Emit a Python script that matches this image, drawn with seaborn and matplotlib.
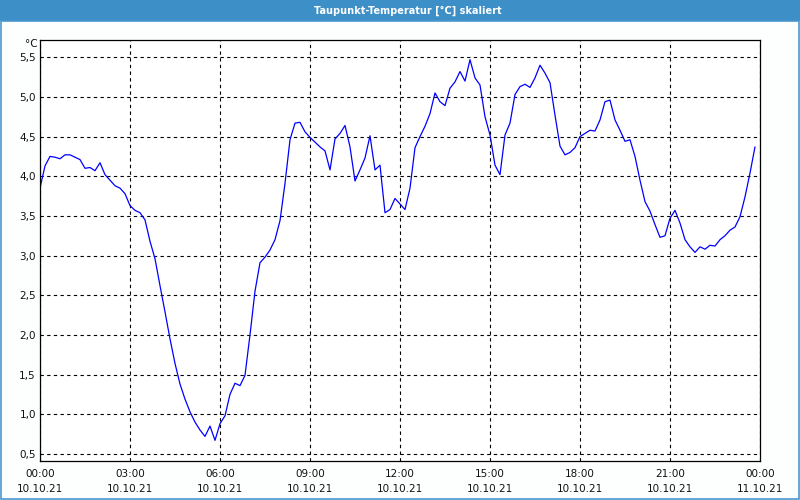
import numpy as np
import pandas as pd
import matplotlib
matplotlib.use("Agg")
import matplotlib.pyplot as plt
import matplotlib.dates as mdates
from matplotlib.patches import Rectangle
from matplotlib.ticker import FuncFormatter
import seaborn as sns

# ---- data ----
title = "Taupunkt-Temperatur [°C] skaliert"
unit = "°C"
start_time = "2021-10-10 00:00"
end_time = "2021-10-11 00:00"
dew_point = [
    3.85, 4.13, 4.25, 4.24, 4.22, 4.27, 4.27, 4.24, 4.21, 4.10, 4.11, 4.07,
    4.17, 4.02, 3.95, 3.88, 3.85, 3.78, 3.63, 3.57, 3.54, 3.45, 3.18, 2.96,
    2.62, 2.29, 1.95, 1.64, 1.38, 1.19, 1.03, 0.90, 0.80, 0.72, 0.85, 0.67,
    0.88, 0.98, 1.25, 1.39, 1.36, 1.49, 2.00, 2.55, 2.91, 2.98, 3.07, 3.20,
    3.44, 3.91, 4.46, 4.67, 4.68, 4.56, 4.49, 4.43, 4.37, 4.32, 4.08, 4.47,
    4.54, 4.64, 4.37, 3.94, 4.08, 4.23, 4.51, 4.08, 4.14, 3.54, 3.58, 3.72,
    3.65, 3.58, 3.85, 4.36, 4.50, 4.63, 4.79, 5.05, 4.94, 4.89, 5.11, 5.19,
    5.32, 5.20, 5.47, 5.24, 5.15, 4.75, 4.52, 4.14, 4.02, 4.52, 4.67, 5.03,
    5.13, 5.16, 5.12, 5.24, 5.40, 5.30, 5.18, 4.77, 4.38, 4.27, 4.30, 4.36,
    4.50, 4.54, 4.58, 4.57, 4.71, 4.94, 4.96, 4.71, 4.58, 4.44, 4.46, 4.25,
    3.95, 3.68, 3.56, 3.39, 3.23, 3.25, 3.47, 3.57, 3.41, 3.20, 3.11, 3.04,
    3.11, 3.08, 3.13, 3.12, 3.20, 3.25, 3.32, 3.36, 3.49, 3.74, 4.04, 4.37,
]
tick_times = ["00:00", "03:00", "06:00", "09:00", "12:00", "15:00", "18:00", "21:00", "00:00"]
tick_dates = ["10.10.21"] * 8 + ["11.10.21"]
y_ticks = [0.5, 1.0, 1.5, 2.0, 2.5, 3.0, 3.5, 4.0, 4.5, 5.0, 5.5]

times = pd.date_range(start_time, periods=len(dew_point), freq="10min")
df = pd.DataFrame({"Zeit": times, "Taupunkt": dew_point})

# ---- figure ----
sns.set_style("white")
plt.rcParams["font.family"] = ["DejaVu Sans"]

fig = plt.figure(figsize=(8, 5), dpi=100, facecolor="#fdfefe")
ax = fig.add_axes([0.05, 1 - 460.5 / 500, 0.90, (460.5 - 40.3) / 500])
ax.set_facecolor("white")

sns.lineplot(data=df, x="Zeit", y="Taupunkt", ax=ax, color="#0000ff", linewidth=0.9)

ax.set_xlim(pd.Timestamp(start_time), pd.Timestamp(end_time))
ax.set_ylim(0.416, 5.714)

major = pd.date_range(start_time, end_time, freq="3h")
ax.set_xticks(major)
ax.set_xticklabels([f"{t}\n{d}" for t, d in zip(tick_times, tick_dates)],
                   fontsize=7.5, color="#111111", linespacing=1.6)
ax.xaxis.set_minor_locator(mdates.HourLocator())
ax.tick_params(axis="x", which="both", length=4, width=0.8, direction="out",
               pad=2, colors="black", labelcolor="#111111")

ax.set_yticks(y_ticks)
ax.yaxis.set_major_formatter(FuncFormatter(lambda v, p: f"{v:.1f}".replace(".", ",")))
ax.tick_params(axis="y", length=0, pad=3, labelsize=7.5, labelcolor="#111111")

ax.grid(True, which="major", color="black", linestyle=(0, (3, 3)), linewidth=0.8)
for s in ax.spines.values():
    s.set_visible(True)
    s.set_color("black")
    s.set_linewidth(0.9)

ax.set_xlabel("")
ax.set_ylabel("")

# unit label
fig.text(38 / 800, 1 - 44 / 500, unit, ha="right", va="center", fontsize=7.5, color="#111111")

# title band
band_h = 21 / 500
fig.patches.append(Rectangle((0, 1 - band_h), 1, band_h, transform=fig.transFigure,
                             facecolor="#3d8fc8", edgecolor="none", zorder=0))
fig.text(0.51, 1 - 10.5 / 500, title, ha="center", va="center", fontsize=7,
         color="white", fontweight="bold")

# frame border
fig.patches.append(Rectangle((0.0008, 0.002), 0.9984, 1 - band_h - 0.002,
                             transform=fig.transFigure, facecolor="none",
                             edgecolor="#4a97cf", linewidth=1.2, zorder=0))

fig.savefig("out.png", dpi=100, facecolor=fig.get_facecolor())
